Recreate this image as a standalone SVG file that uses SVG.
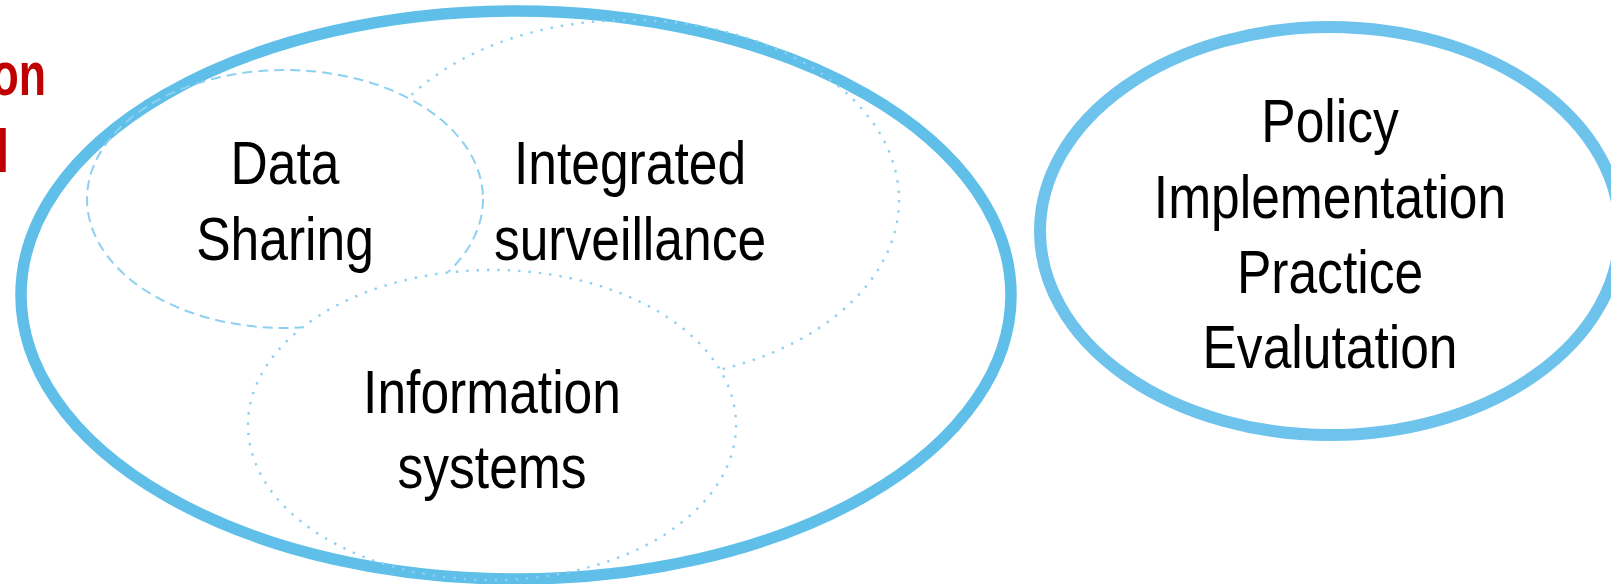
<svg xmlns="http://www.w3.org/2000/svg" width="1611" height="584" viewBox="0 0 1611 584">
  <style>
    .lbl { font-family: "Liberation Sans", Arial, sans-serif; font-size: 61px; fill: #000; text-anchor: middle; }
    .red { font-family: "Liberation Sans", Arial, sans-serif; font-size: 62px; font-weight: bold; fill: #c00000; }
    .big { fill: none; stroke: #5fbfe8; stroke-width: 11.5; }
    .pol { fill: #fff; stroke: #6ec3ec; stroke-width: 12; }
    .dash { fill: #fff; stroke: #8dd0f1; stroke-width: 2; stroke-dasharray: 10 6; }
    .dot { fill: #fff; stroke: #8dd0f1; stroke-width: 2.4; stroke-dasharray: 2.4 8; }
    .over { fill: none; }
  </style>
  <defs>
    <clipPath id="band">
      <path clip-rule="evenodd" d="M15,295 a501,290 0 1,0 1002,0 a501,290 0 1,0 -1002,0 Z M27,295 a489,278 0 1,0 978,0 a489,278 0 1,0 -978,0 Z"/>
    </clipPath>
  </defs>
  <rect width="1611" height="584" fill="#fff"/>

  <g id="title-fragment">
    <g transform="scale(0.72 1)">
      <text class="red" x="64" y="95" text-anchor="end">on</text>
      <text class="red" x="-5" y="172">l</text>
    </g>
  </g>

  <g id="integrated-surveillance">
    <ellipse class="dot" cx="630" cy="200" rx="269" ry="180"/>
  </g>
  <g id="data-sharing">
    <ellipse class="dash" cx="285" cy="199" rx="198" ry="129"/>
  </g>
  <g id="information-systems">
    <ellipse class="dot" cx="492" cy="425" rx="244" ry="155"/>
  </g>

  <g id="capabilities">
    <ellipse class="big" cx="516" cy="295" rx="495" ry="284"/>
  </g>

  <g id="outlines-over-border" clip-path="url(#band)">
    <ellipse class="dot over" cx="630" cy="200" rx="269" ry="180"/>
    <ellipse class="dash over" cx="285" cy="199" rx="198" ry="129"/>
    <ellipse class="dot over" cx="492" cy="425" rx="244" ry="155"/>
  </g>

  <g id="labels-data-sharing" transform="translate(285 0) scale(0.845 1)">
    <text class="lbl" x="0" y="184">Data</text>
    <text class="lbl" x="0" y="260">Sharing</text>
  </g>
  <g id="labels-integrated" transform="translate(630 0) scale(0.845 1)">
    <text class="lbl" x="0" y="184">Integrated</text>
    <text class="lbl" x="0" y="260">surveillance</text>
  </g>
  <g id="labels-information" transform="translate(492 0) scale(0.845 1)">
    <text class="lbl" x="0" y="413">Information</text>
    <text class="lbl" x="0" y="488">systems</text>
  </g>

  <g id="policy">
    <ellipse class="pol" cx="1330" cy="231" rx="290" ry="204"/>
    <g transform="translate(1330 0) scale(0.845 1)">
      <text class="lbl" x="0" y="142">Policy</text>
      <text class="lbl" x="0" y="218">Implementation</text>
      <text class="lbl" x="0" y="293">Practice</text>
      <text class="lbl" x="0" y="368">Evalutation</text>
    </g>
  </g>

  <g id="connectors"></g>
</svg>
